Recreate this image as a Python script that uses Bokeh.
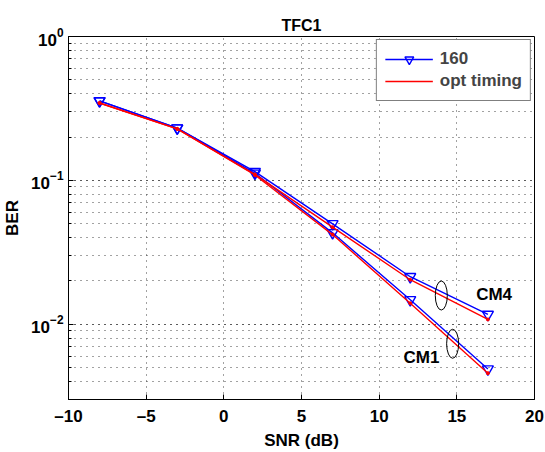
from bokeh.plotting import figure
from bokeh.models import Legend, LegendItem, FixedTicker
from bokeh.core.properties import value
from bokeh.embed import file_html
from bokeh.resources import INLINE

snr = [-8, -3, 2, 7, 12, 17]
ber_160_cm1 = [0.357, 0.231, 0.112, 0.0432, 0.0148, 0.00488]
ber_opt_cm1 = [0.345, 0.228, 0.109, 0.0420, 0.0140, 0.00457]
ber_160_cm4 = [0.357, 0.231, 0.115, 0.0499, 0.0214, 0.0117]
ber_opt_cm4 = [0.345, 0.228, 0.110, 0.0473, 0.0204, 0.0108]

x_ticks = [-10, -5, 0, 5, 10, 15, 20]
x_tick_labels = {-10: "\u201310", -5: "\u20135", 0: "0", 5: "5", 10: "10", 15: "15", 20: "20"}

ellipse_x = [14.0, 14.73]
ellipse_y = [0.01584, 0.00732]
note_x = [17.4, 12.72]
note_y = [0.01607, 0.00586]
note_text = ["CM4", "CM1"]

FONT = "Liberation Sans"

p = figure(width=545, height=452, x_range=(-10, 20), y_range=(0.003, 1),
           y_axis_type="log", output_backend="svg", toolbar_location=None,
           min_border_left=67, min_border_right=11, min_border_top=36,
           min_border_bottom=47, title="TFC1")
p.background_fill_color = "white"
p.border_fill_color = "white"
p.outline_line_color = "black"
p.outline_line_width = 1

p.title.align = "center"
p.title.text_font = FONT
p.title.text_font_style = "bold"
p.title.text_font_size = "16px"
p.title.text_color = "black"
p.title.standoff = 6

for ax in (p.xaxis[0], p.yaxis[0]):
    ax.major_label_text_font = FONT
    ax.major_label_text_font_style = "bold"
    ax.major_label_text_font_size = "17px"
    ax.major_label_text_color = "black"
    ax.axis_label_text_font = FONT
    ax.axis_label_text_font_style = "bold"
    ax.axis_label_text_font_size = "17px"
    ax.axis_label_text_color = "black"
    ax.major_tick_in = 5
    ax.major_tick_out = 0
    ax.minor_tick_out = 0
    ax.axis_line_color = "black"
    ax.major_tick_line_color = "black"
    ax.minor_tick_line_color = "black"

p.xaxis.ticker = FixedTicker(ticks=x_ticks)
p.xaxis.major_label_overrides = x_tick_labels
p.xaxis.minor_tick_in = 0
p.yaxis.minor_tick_in = 3
p.xaxis.axis_label = "SNR (dB)"
p.yaxis.axis_label = "BER"
p.xaxis.major_label_standoff = 7
p.xaxis.axis_label_standoff = 2
p.yaxis.major_label_standoff = 5
p.yaxis.axis_label_standoff = 6

p.xgrid.ticker = FixedTicker(ticks=x_ticks)
p.xgrid.grid_line_color = "#444444"
p.xgrid.grid_line_dash = "1 5"
p.xgrid.grid_line_width = 1
p.ygrid.grid_line_color = "#444444"
p.ygrid.grid_line_dash = "1 5"
p.ygrid.minor_grid_line_color = "#444444"
p.ygrid.minor_grid_line_dash = "1 5"

BLUE = "#0000ff"
RED = "#ff0000"

bl1 = p.line(snr, ber_160_cm1, line_color=BLUE, line_width=1.4)
bm1 = p.scatter(snr, ber_160_cm1, marker="inverted_triangle", size=11,
                line_color=BLUE, fill_color=None, line_width=1.4)
p.line(snr, ber_160_cm4, line_color=BLUE, line_width=1.4)
p.scatter(snr, ber_160_cm4, marker="inverted_triangle", size=11,
          line_color=BLUE, fill_color=None, line_width=1.4)
rl1 = p.line(snr, ber_opt_cm1, line_color=RED, line_width=1.4)
p.scatter(snr, ber_opt_cm1, marker="circle", size=3, line_color=RED, fill_color=RED)
p.line(snr, ber_opt_cm4, line_color=RED, line_width=1.4)
p.scatter(snr, ber_opt_cm4, marker="circle", size=3, line_color=RED, fill_color=RED)

p.ellipse(x=ellipse_x, y=ellipse_y, width=12, height=29, width_units="screen",
          height_units="screen", fill_color=None, line_color="black", line_width=1)

p.text(x=note_x, y=note_y, text=note_text, text_align="center", text_baseline="middle",
       text_font=value(FONT), text_font_style="bold", text_font_size="17px",
       text_color="black")

legend = Legend(items=[LegendItem(label="160", renderers=[bl1, bm1]),
                       LegendItem(label="opt timing", renderers=[rl1])],
                location="top_right", border_line_color="black", border_line_width=1.5,
                label_text_font=FONT, label_text_font_style="bold",
                label_text_font_size="17px", glyph_width=48, glyph_height=22,
                label_height=22, spacing=0, padding=8, margin=3, label_standoff=7,
                background_fill_color="white", background_fill_alpha=1)
p.add_layout(legend)

open("out.html", "w").write(file_html(p, INLINE))
